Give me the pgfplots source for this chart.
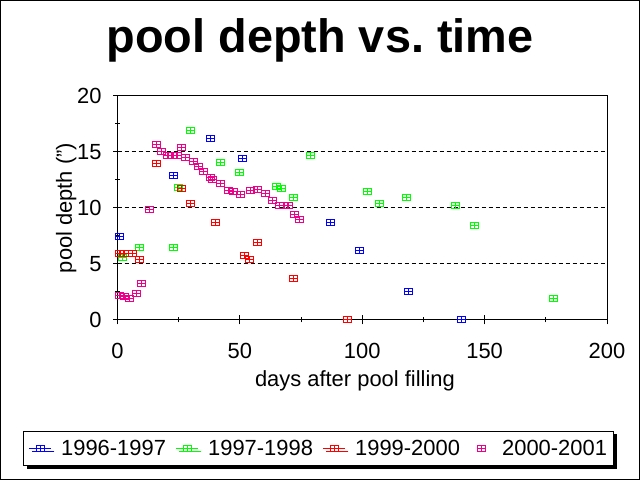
\documentclass[border=0pt]{standalone}
\usepackage{fontspec}
\setmainfont{Liberation Sans}
\usepackage{pgfplots}
\pgfplotsset{compat=1.18}
\usetikzlibrary{shadows}
\frenchspacing

% open box with a cross inside
\pgfdeclareplotmark{boxplus}{%
  \pgfpathrectangle{\pgfpoint{-4bp}{-3bp}}{\pgfpoint{8bp}{6bp}}%
  \pgfpathmoveto{\pgfpoint{0bp}{-3bp}}%
  \pgfpathlineto{\pgfpoint{0bp}{3bp}}%
  \pgfpathmoveto{\pgfpoint{-4bp}{0bp}}%
  \pgfpathlineto{\pgfpoint{4bp}{0bp}}%
  \pgfusepathqstroke}

\pgfplotsset{
  linelegend/.style={legend image code/.code={
      \draw[#1,line width=1bp] (0bp,0bp) -- (22bp,0bp);
      \draw[#1,line width=1bp] plot[mark=boxplus,only marks] coordinates {(11bp,0bp)};}},
  marklegend/.style={legend image code/.code={
      \path (0bp,0bp) (22bp,0bp);
      \draw[#1,line width=1bp] plot[mark=boxplus,only marks] coordinates {(11bp,0bp)};}},
}

\begin{document}
\begin{tikzpicture}[x=1bp,y=1bp]
\useasboundingbox (0,0) rectangle (640,480);
\draw[line width=1bp] (0.5,0.5) rectangle (639.5,479.5);
\node[font=\fontsize{47}{50}\selectfont\bfseries, anchor=base, inner sep=0pt] at (320,427) {pool depth vs. time};
\begin{axis}[
  at={(117.5bp,160bp)}, anchor=south west,
  scale only axis, width=489.5bp, height=224bp,
  xmin=0, xmax=200, ymin=0, ymax=20,
  xtick={0,50,...,200}, ytick={0,5,...,20},
  minor x tick num=1, minor y tick num=1,
  tick align=center, xtick pos=bottom, ytick pos=left,
  major tick length=9bp, minor tick length=5bp,
  every tick/.style={black, line width=1bp},
  axis line style={line width=1bp},
  ymajorgrids,
  major grid style={black, line width=1bp, dash pattern=on 4bp off 3bp},
  /pgf/number format/assume math mode=true,
  tick label style={font=\fontsize{22}{24}\selectfont},
  yticklabel style={xshift=-8bp},
  xticklabel style={yshift=-15bp},
  label style={font=\fontsize{22}{24}\selectfont},
  xlabel={days after pool filling},
  ylabel={pool depth (")},
  xlabel style={at={(axis description cs:0.485,0)}, anchor=base, yshift=-67bp},
  ylabel style={at={(axis description cs:-0.093,0.5)}, anchor=base},
  clip=false,
  legend columns=4,
  legend style={at={(axis description cs:0.4116,-0.5737)}, anchor=center,
    draw=black, line width=1bp, fill=white,
    font=\fontsize{22}{24}\selectfont,
    drop shadow={shadow xshift=3bp, shadow yshift=-3bp, opacity=1, fill=black},
    inner xsep=5bp, inner ysep=7bp,
    /tikz/every odd column/.append style={column sep=7.2bp},
    /tikz/every even column/.append style={column sep=8bp}},
]
\addplot[blue, only marks, mark=boxplus, line width=1bp, linelegend=blue] coordinates {
  (1,7.45) (23,12.9) (38,16.2) (51,14.4) (87,8.7) (99,6.2) (119,2.5) (140.5,0)
};
\addlegendentry{1996-1997}
\addplot[green, only marks, mark=boxplus, line width=1bp, linelegend=green] coordinates {
  (2,5.6) (9,6.45) (23,6.5) (25,11.8) (30,16.9) (42,14.1) (50,13.15)
  (65,11.9) (67,11.7) (72,10.9) (79,14.65) (102,11.45) (107,10.4)
  (118,10.9) (138,10.2) (146,8.4) (178,1.9)
};
\addlegendentry{1997-1998}
\addplot[red, only marks, mark=boxplus, line width=1bp, linelegend=red] coordinates {
  (1,5.9) (2.8,5.9) (4.6,5.9) (6.2,5.9) (9,5.4) (16,13.95) (26,11.7)
  (30,10.4) (40,8.7) (52,5.75) (54,5.4) (57,6.9) (72,3.7) (94,0)
};
\addlegendentry{1999-2000}
\addplot[magenta, only marks, mark=boxplus, line width=1bp, marklegend=magenta] coordinates {
  (0.75,2.15) (2.9,2.1) (5.1,1.9) (7.9,2.35) (9.9,3.25) (13,9.85)
  (16,15.65) (18,15) (20.4,14.65) (22.6,14.65) (24.5,14.65) (26,15.4)
  (27.8,14.55) (31,14.15) (33,13.7) (35,13.3) (38,12.7) (39,12.55)
  (42,12.2) (45.2,11.55) (47.3,11.45) (50.1,11.2) (54.2,11.55) (57,11.65)
  (60.3,11.3) (63.2,10.65) (66,10.2) (68,10.2) (69.8,10.2) (72.3,9.4) (74.3,9)
};
\addlegendentry{2000-2001}
\end{axis}
\end{tikzpicture}
\end{document}
